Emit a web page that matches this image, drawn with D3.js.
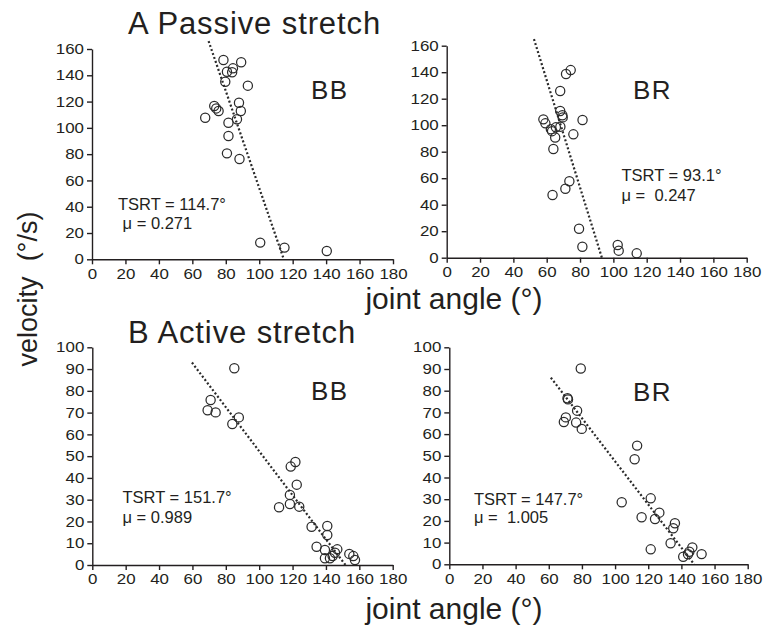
<!DOCTYPE html>
<html>
<head>
<meta charset="utf-8">
<script src="https://cdn.jsdelivr.net/npm/d3@7"></script>
<style>
  html, body { margin: 0; padding: 0; background: #fff; }
  svg { display: block; }
  text { font-family: "Liberation Sans", Arial, sans-serif; fill: #231f20; }
</style>
</head>
<body>
<svg id="chart" width="767" height="628"></svg>
<script>
// ---- data: joint angle (deg) vs velocity (deg/s) per muscle and condition ----
const passiveBBAngle = [78.6, 89.2, 84.3, 80.7, 83.8, 79.7, 93.2, 87.9, 73.1, 74.3, 75.7, 89.0, 67.7, 86.7, 81.6, 81.6, 80.7, 88.2, 100.6, 115.1, 140.4];
const passiveBBVel   = [151.6, 149.9, 145.3, 142.7, 142.3, 135.1, 132.1, 119.1, 116.6, 114.8, 112.8, 112.8, 107.7, 106.5, 103.9, 93.8, 80.6, 76.3, 12.7, 8.9, 6.3];

const passiveBRAngle = [74.4, 71.6, 68.1, 68.1, 69.4, 69.6, 58.0, 59.2, 81.5, 62.5, 65.5, 68.2, 63.2, 65.1, 76.0, 64.0, 73.6, 71.2, 63.5, 79.4, 81.4, 102.6, 103.2, 114.0];
const passiveBRVel   = [141.6, 138.6, 125.8, 110.7, 107.5, 105.9, 104.4, 101.4, 103.9, 97.0, 98.4, 98.9, 95.5, 90.7, 93.1, 82.0, 57.7, 52.0, 47.3, 21.9, 8.3, 9.6, 5.3, 3.3];

const activeBBAngle = [85.1, 70.9, 69.1, 73.9, 87.8, 83.9, 121.7, 118.9, 122.5, 118.4, 118.4, 124.0, 111.9, 131.4, 140.8, 140.8, 134.4, 139.4, 139.4, 144.0, 146.8, 145.4, 142.4, 154.0, 156.4, 157.4];
const activeBBVel   = [90.4, 75.8, 71.1, 70.1, 67.8, 64.8, 47.3, 45.2, 36.9, 32.2, 28.0, 26.8, 26.5, 17.6, 17.9, 13.8, 8.4, 6.9, 3.1, 4.1, 7.2, 5.6, 3.1, 5.1, 4.1, 2.3];

const activeBRAngle = [79.3, 71.3, 71.6, 77.1, 70.3, 69.1, 76.5, 79.9, 113.3, 111.8, 104.0, 121.5, 126.7, 116.0, 124.1, 136.1, 135.1, 133.5, 121.5, 146.6, 144.8, 152.2, 141.1, 144.0];
const activeBRVel   = [90.2, 76.5, 76.0, 70.8, 67.7, 65.6, 65.3, 62.4, 54.7, 48.4, 28.6, 30.4, 23.8, 21.7, 20.9, 18.9, 16.6, 9.7, 6.9, 7.8, 5.8, 4.7, 3.5, 4.6];

// threshold (TSRT, deg) and slope factor mu of each fitted line: angle = TSRT - mu * velocity
const panelMuscles = ["BB", "BR", "BB", "BR"];
const tsrtValues   = [114.7, 93.1, 151.7, 147.7];
const muValues     = [0.271, 0.247, 0.989, 1.005];
const lineTopVel   = [166, 165, 93, 86];

// axis ticks
const angleTicks       = [0, 20, 40, 60, 80, 100, 120, 140, 160, 180];
const passiveVelTicks  = [0, 20, 40, 60, 80, 100, 120, 140, 160];
const activeVelTicks   = [0, 10, 20, 30, 40, 50, 60, 70, 80, 90, 100];

// ---- layout ----
const svg = d3.select("#chart");

const panels = [
  { angle: passiveBBAngle, vel: passiveBBVel, yMax: 160, yTicks: passiveVelTicks,
    x0: 92, x1: 393, yBottom: 259.3, yTop: 49,
    name: [311, 99.3], stat: [118, 210, 228.5], muPrefix: " μ = " },
  { angle: passiveBRAngle, vel: passiveBRVel, yMax: 160, yTicks: passiveVelTicks,
    x0: 446.7, x1: 746.7, yBottom: 257.7, yTop: 45.7,
    name: [633, 99.3], stat: [621.5, 180.7, 200.5], muPrefix: "μ =  " },
  { angle: activeBBAngle, vel: activeBBVel, yMax: 100, yTicks: activeVelTicks,
    x0: 92.3, x1: 392.7, yBottom: 565, yTop: 347.3,
    name: [311, 400], stat: [122.5, 503.3, 523.3], muPrefix: "μ = " },
  { angle: activeBRAngle, vel: activeBRVel, yMax: 100, yTicks: activeVelTicks,
    x0: 449.3, x1: 747.7, yBottom: 564.3, yTop: 347.3,
    name: [633, 400.7], stat: [474, 505, 523.3], muPrefix: "μ =  " }
];

// widen the tick digits to the broad numeral face used on the axes
function widenTicks(sel) {
  sel.selectAll(".tick text").each(function() {
    const t = d3.select(this);
    const s = t.text();
    t.attr("textLength", s.length * 9.4).attr("lengthAdjust", "spacingAndGlyphs");
  });
}

panels.forEach((p, i) => {
  const x = d3.scaleLinear().domain([0, 180]).range([p.x0, p.x1]);
  const y = d3.scaleLinear().domain([0, p.yMax]).range([p.yBottom, p.yTop]);

  const gx = svg.append("g")
    .attr("transform", `translate(0,${p.yBottom})`)
    .call(d3.axisBottom(x).tickValues(angleTicks).tickSize(5).tickSizeOuter(0).tickPadding(4));
  const gy = svg.append("g")
    .attr("transform", `translate(${p.x0},0)`)
    .call(d3.axisLeft(y).tickValues(p.yTicks).tickSize(5).tickSizeOuter(0).tickPadding(3));

  [gx, gy].forEach(g => {
    g.select(".domain").attr("stroke", "#231f20").attr("stroke-width", 1.4);
    g.selectAll(".tick line").attr("stroke", "#231f20").attr("stroke-width", 1.4);
    g.selectAll(".tick text").attr("font-size", 14.5)
      .attr("font-family", "'Liberation Sans', Arial, sans-serif").attr("fill", "#231f20");
    widenTicks(g);
  });

  // fitted threshold line, dotted
  const vTop = lineTopVel[i];
  const lineData = [vTop, 0].map(v => [tsrtValues[i] - muValues[i] * v, v]);
  svg.append("path")
    .datum(lineData)
    .attr("d", d3.line().x(d => x(d[0])).y(d => y(d[1])))
    .attr("fill", "none")
    .attr("stroke", "#2a2a2a")
    .attr("stroke-width", 2.2)
    .attr("stroke-dasharray", "2,2.2");

  // data points, open circles
  svg.append("g").selectAll("circle")
    .data(p.angle.map((a, k) => [a, p.vel[k]]))
    .join("circle")
    .attr("cx", d => x(d[0]))
    .attr("cy", d => y(d[1]))
    .attr("r", 4.6)
    .attr("fill", "none")
    .attr("stroke", "#2b2b2b")
    .attr("stroke-width", 1.25);

  // muscle label
  svg.append("text")
    .attr("x", p.name[0]).attr("y", p.name[1])
    .attr("font-size", 26).attr("letter-spacing", 1.5)
    .text(panelMuscles[i]);

  // threshold and mu annotation
  svg.append("text")
    .attr("x", p.stat[0]).attr("y", p.stat[1])
    .attr("font-size", 16.5)
    .text(`TSRT = ${tsrtValues[i].toFixed(1)}°`);
  svg.append("text")
    .attr("x", p.stat[0]).attr("y", p.stat[2])
    .attr("font-size", 16.5)
    .style("white-space", "pre")
    .text(`${p.muPrefix}${muValues[i].toFixed(3)}`);
});

// section titles
svg.append("text").attr("x", 128).attr("y", 34)
  .attr("font-size", 31).attr("letter-spacing", 0.9)
  .text("A Passive stretch");
svg.append("text").attr("x", 128).attr("y", 343)
  .attr("font-size", 31).attr("letter-spacing", 0.9)
  .text("B Active stretch");

// shared axis titles
["joint angle (°)", "joint angle (°)"].forEach((t, k) => {
  svg.append("text")
    .attr("x", 454).attr("y", k === 0 ? 309 : 619)
    .attr("text-anchor", "middle")
    .attr("font-size", 30)
    .text(t);
});
svg.append("text")
  .attr("transform", "translate(37,289) rotate(-90)")
  .attr("text-anchor", "middle")
  .attr("font-size", 27)
  .style("white-space", "pre")
  .text("velocity  (°/s)");
</script>
</body>
</html>
